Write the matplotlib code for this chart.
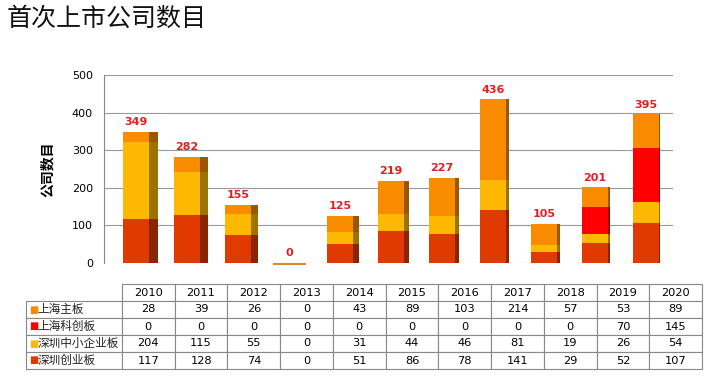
import numpy as np
import matplotlib
matplotlib.use("Agg")
import matplotlib.pyplot as plt
from matplotlib.colors import to_rgb

plt.rcParams['font.family'] = ['Noto Sans CJK SC', 'DejaVu Sans']

years = ['2010', '2011', '2012', '2013', '2014', '2015', '2016', '2017', '2018', '2019', '2020']
sh_main = [28, 39, 26, 0, 43, 89, 103, 214, 57, 53, 89]
sh_star = [0, 0, 0, 0, 0, 0, 0, 0, 0, 70, 145]
sz_sme = [204, 115, 55, 0, 31, 44, 46, 81, 19, 26, 54]
sz_gem = [117, 128, 74, 0, 51, 86, 78, 141, 29, 52, 107]

series_names = ['上海主板', '上海科创板', '深圳中小企业板', '深圳创业板']
series_vals = [sh_main, sh_star, sz_sme, sz_gem]
series_cols = ['#F98B00', '#FE0000', '#FDB900', '#E03A00']

W, H = 711, 379
fig = plt.figure(figsize=(W / 100, H / 100), dpi=100)

def px_axes(x0, y0, x1, y1):
    return fig.add_axes([x0 / W, 1 - y1 / H, (x1 - x0) / W, (y1 - y0) / H])

fig.text(7 / W, 1 - 19 / H, '首次上市公司数目', fontsize=18, va='center', ha='left',
         color='#111111', fontweight='light')

ax = px_axes(104, 75, 673, 263)
x = np.arange(len(years))
bw = 0.5
depth = np.linspace(0.17, 0.03, len(years))

def darker(c, f=0.62):
    r, g, b = to_rgb(c)
    return (r * f, g * f, b * f)

# stack bottom to top: 深圳创业板, 深圳中小企业板, 上海科创板, 上海主板
order = [3, 2, 1, 0]
bottom = np.zeros(len(years))
for k in order:
    v = np.array(series_vals[k], dtype=float)
    ax.bar(x, v, bw, bottom=bottom, color=series_cols[k], zorder=3)
    ax.bar(x + bw / 2 + depth / 2, v, depth, bottom=bottom, color=darker(series_cols[k]), zorder=3)
    bottom += v

totals = bottom
for xi, t in zip(x, totals):
    ax.text(xi, t + 12, str(int(t)), ha='center', va='bottom', fontsize=8,
            color='#E02020', fontweight='bold', family=['DejaVu Sans'])
# flat sliver for the empty 2013 column
ax.bar(x[3], 4, bw + 0.15, bottom=-4, color='#D98A20', zorder=4, clip_on=False)

ax.set_xlim(-0.63, 10.53)
ax.set_ylim(0, 500)
ax.set_yticks([0, 100, 200, 300, 400, 500])
ax.tick_params(axis='y', length=0, labelsize=8, pad=8)
ax.set_xticks([])
for s in ['top', 'right', 'bottom']:
    ax.spines[s].set_visible(False)
ax.spines['left'].set_color('#888888')
ax.spines['left'].set_linewidth(0.8)
ax.yaxis.grid(True, color='#999999', linewidth=0.8, zorder=0)
for lab in ax.get_yticklabels():
    lab.set_family('DejaVu Sans')
ax.set_ylabel('公司数目', fontsize=10, fontweight='bold', labelpad=12)

# data table
tax = px_axes(26, 284, 702, 369)
tax.axis('off')
cell_text = [[str(v) for v in vals] for vals in series_vals]
col_w = [96 / 676] + [(676 - 96) / 11 / 676] * 11
full_text = [[''] + years] + [[''] + cell_text[i] for i in range(4)]
tbl = tax.table(cellText=full_text, colWidths=col_w, loc='center', bbox=[0, 0, 1, 1])
tbl.auto_set_font_size(False)
for (r, c), cell in tbl.get_celld().items():
    cell.set_edgecolor('#888888')
    cell.set_linewidth(0.8)
    t = cell.get_text()
    t.set_fontsize(8.2)
    t.set_family(['DejaVu Sans'])
    t.set_ha('center')
    if r == 0 and c == 0:
        cell.set_edgecolor('white')

# row labels with coloured squares
for i, n in enumerate(series_names):
    yc = 1 - (i + 1.5) / 5
    tax.text(0.004, yc, '■', color=series_cols[i], fontsize=7, va='center', ha='left',
             transform=tax.transAxes, family=['DejaVu Sans'])
    tax.text(0.017, yc, n, color='#222222', fontsize=8.4, va='center', ha='left',
             transform=tax.transAxes)

fig.savefig('out.png', dpi=100)
